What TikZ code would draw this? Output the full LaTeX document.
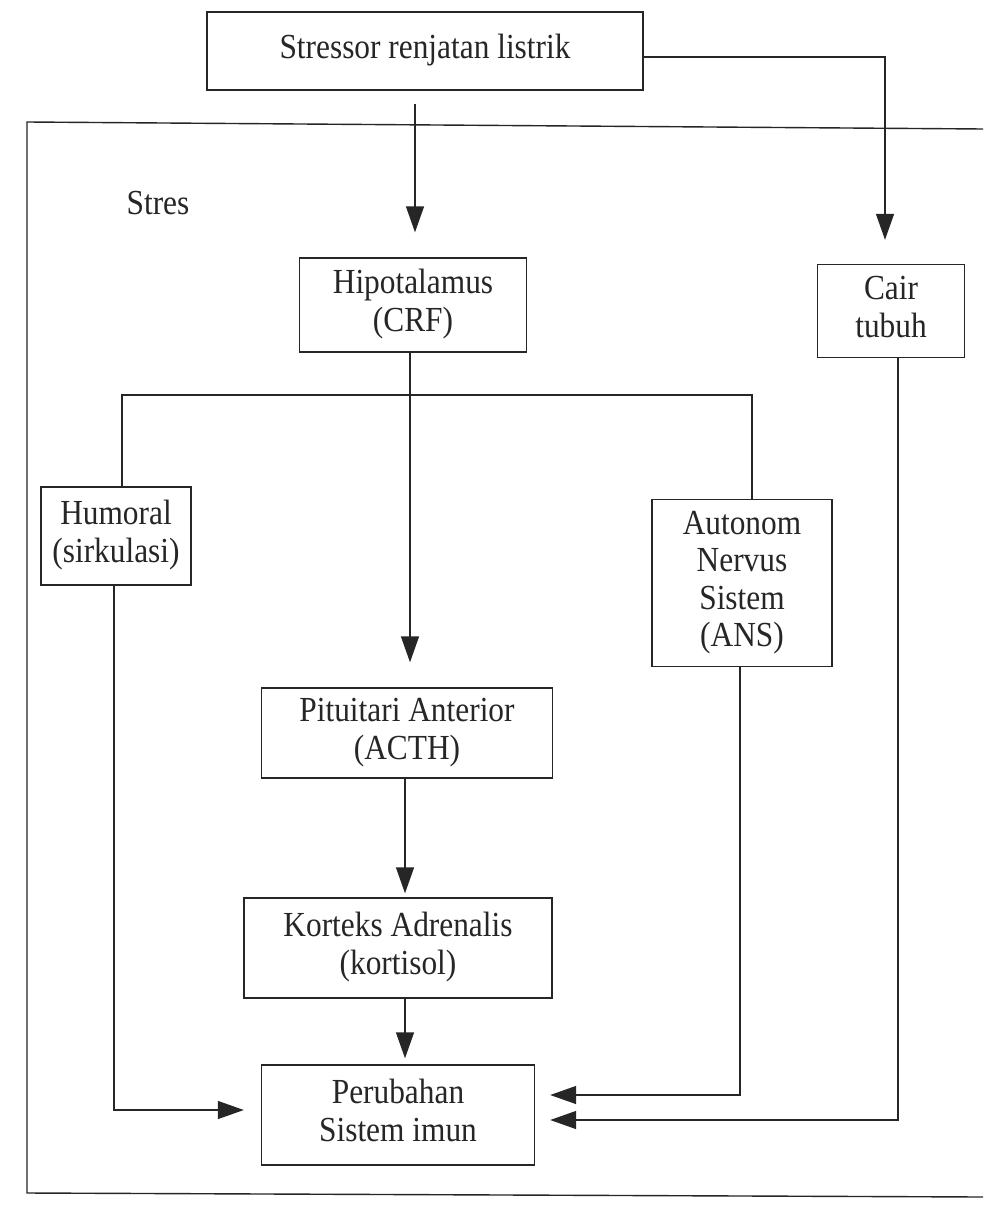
\documentclass[tikz,border=0pt]{standalone}
\usepackage{fontspec}
\setmainfont{Liberation Serif}
\usepackage{graphicx}
\usetikzlibrary{arrows.meta}
\newcommand{\sx}[1]{\scalebox{0.98}[1.1]{\begin{tabular}{@{}c@{}}#1\end{tabular}}}
\begin{document}
\begin{tikzpicture}[x=1pt,y=-1pt,
  box/.style={draw=black!85,line width=1.4pt,rectangle,inner sep=0pt,font=\fontsize{32}{34}\selectfont,text=black!85},
  ln/.style={draw=black!85,line width=1.4pt},
  arr/.style={ln,-{Triangle[length=26pt,width=18pt]}}]
\useasboundingbox (0,0) rectangle (983,1209);
\fill[white] (0,0) rectangle (983,1209);
% frame
\draw[ln] (983,129) -- (27,122) -- (27,1193) -- (983,1197);
\node[font=\fontsize{32}{34}\selectfont,text=black!85] (stres) at (158,207) {\sx{Stres}};
% boxes
\node[box,minimum width=436pt,minimum height=78pt] (stressor) at (425,51) {\sx{Stressor renjatan listrik}};
\node[box,minimum width=227pt,minimum height=94pt] (hipo) at (413,305) {\sx{Hipotalamus\\(CRF)}};
\node[box,minimum width=147pt,minimum height=93pt] (cair) at (891,311) {\sx{Cair\\tubuh}};
\node[box,minimum width=150pt,minimum height=98pt] (humoral) at (116,536) {\sx{Humoral\\(sirkulasi)}};
\node[box,minimum width=180pt,minimum height=167pt] (ans) at (742,583) {\sx{Autonom\\Nervus\\Sistem\\(ANS)}};
\node[box,minimum width=291pt,minimum height=90pt] (pit) at (407,733) {\sx{Pituitari Anterior\\(ACTH)}};
\node[box,minimum width=308pt,minimum height=100pt] (kort) at (398,948) {\sx{Korteks Adrenalis\\(kortisol)}};
\node[box,minimum width=273pt,minimum height=100pt] (perub) at (398,1115) {\sx{Perubahan\\Sistem imun}};
% connectors
\draw[arr,shorten <=13pt,shorten >=25pt] ([xshift=-10pt]stressor.south) -- ([xshift=2pt]hipo.north);
\draw[arr,shorten >=24pt] ([yshift=-6pt]stressor.east) -| ([xshift=-6pt]cair.north);
\draw[arr,shorten >=25pt] ([xshift=-3pt]hipo.south) -- ([xshift=3pt]pit.north);
\draw[arr,shorten >=4pt] ([xshift=-2pt]pit.south) -- ([xshift=7pt]kort.north);
\draw[arr,shorten >=6pt] ([xshift=7pt]kort.south) -- ([xshift=7pt]perub.north);
\draw[ln] ([xshift=6pt]humoral.north) |- (410,395) -| ([xshift=10pt]ans.north);
\draw[arr,shorten >=17pt] ([xshift=-2pt]humoral.south) |- ([yshift=5pt]perub.west);
\draw[arr,shorten >=15pt] ([xshift=-2pt]ans.south) |- ([yshift=20pt]perub.east);
\draw[arr,shorten >=15pt] ([xshift=7pt]cair.south) |- ([yshift=-5pt]perub.east);
\end{tikzpicture}
\end{document}
